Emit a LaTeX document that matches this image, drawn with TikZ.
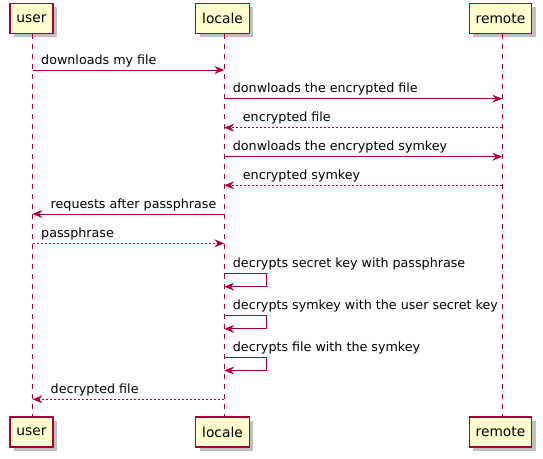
\documentclass[tikz,border=0pt]{standalone}
\usepackage{fontspec}
\setmainfont{DejaVu Sans}
\usetikzlibrary{arrows.meta,shadows}
\definecolor{umlred}{HTML}{A80036}
\definecolor{umlbox}{HTML}{FEFECE}

\begin{document}
\begin{tikzpicture}[x=1pt, y=-1pt,
  every node/.style={font=\fontsize{12.7}{15}\selectfont},
  actor/.style={draw=umlred, fill=umlbox, line width=1.3pt, minimum height=30pt, inner xsep=6.5pt,
    font=\fontsize{13.8}{16}\selectfont,
    drop shadow={shadow xshift=4pt, shadow yshift=-4pt, fill=black, opacity=0.25}},
  life/.style={umlred, line width=0.8pt, dash pattern=on 5pt off 5pt},
  msg/.style={umlred, line width=1pt, -{Stealth[length=10pt, width=8pt, inset=3.5pt]}},
  reply/.style={msg, dash pattern=on 2pt off 2pt},
  lbl/.style={anchor=base west, inner sep=0pt}]
  \useasboundingbox (0,0) rectangle (543,458);
  % Teilnehmer
  \node[actor] (userTop) at (31.5,18.3) {user};
  \node[actor] (localeTop) at (222.5,18.3) {locale};
  \node[actor] (remoteTop) at (500.5,18.3) {remote};
  \node[actor] (userBot) at (31.5,432) {user};
  \node[actor] (localeBot) at (222.5,432) {locale};
  \node[actor] (remoteBot) at (500.5,432) {remote};
  % Lebenslinien
  \coordinate (u) at (32.5,0);
  \coordinate (l) at (224.3,0);
  \coordinate (r) at (502.3,0);
  \draw[life] (u |- userTop.south) -- (u |- userBot.north);
  \draw[life] (l |- localeTop.south) -- (l |- localeBot.north);
  \draw[life] (r |- remoteTop.south) -- (r |- remoteBot.north);
  % Nachrichten
  \draw[msg] (u |- 0,70) -- (l |- 0,70);
  \node[lbl] (m1) at (41,64) {downloads my file};
  \draw[msg] (l |- 0,98.7) -- (r |- 0,98.7);
  \node[lbl] (m2) at (232.7,92.7) {donwloads the encrypted file};
  \draw[reply] (r |- 0,127.7) -- (l |- 0,127.7);
  \node[lbl] (m3) at (242.7,121.7) {encrypted file};
  \draw[msg] (l |- 0,156.7) -- (r |- 0,156.7);
  \node[lbl] (m4) at (232.7,150.7) {donwloads the encrypted symkey};
  \draw[reply] (r |- 0,185.3) -- (l |- 0,185.3);
  \node[lbl] (m5) at (242.7,179.3) {encrypted symkey};
  \draw[msg] (l |- 0,214) -- (u |- 0,214);
  \node[lbl] (m6) at (50.5,208) {requests after passphrase};
  \draw[reply] (u |- 0,243.3) -- (l |- 0,243.3);
  \node[lbl] (m7) at (41,237.3) {passphrase};
  % Selbstaufrufe
  \draw[msg] (l |- 0,273.3) -- ++(42.5,0) -- ++(0,13.4) -- (l |- 0,286.7);
  \node[lbl] (m8) at (232.7,267.5) {decrypts secret key with passphrase};
  \draw[msg] (l |- 0,315.7) -- ++(42.5,0) -- ++(0,13.2) -- (l |- 0,328.9);
  \node[lbl] (m9) at (232.7,309.7) {decrypts symkey with the user secret key};
  \draw[msg] (l |- 0,357.7) -- ++(42.5,0) -- ++(0,12.8) -- (l |- 0,370.5);
  \node[lbl] (m10) at (232.7,351.7) {decrypts file with the symkey};
  \draw[reply] (l |- 0,399.3) -- (u |- 0,399.3);
  \node[lbl] (m11) at (50.5,393.3) {decrypted file};
\end{tikzpicture}
\end{document}
